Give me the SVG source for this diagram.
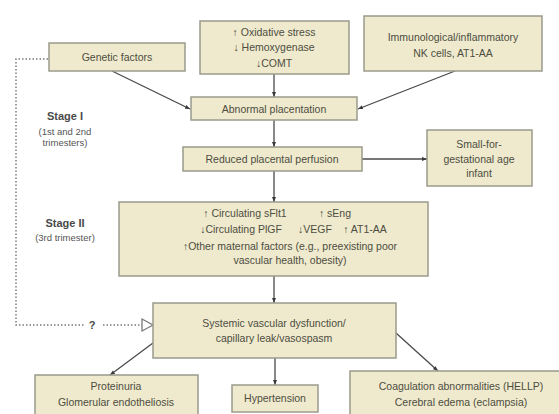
<svg xmlns="http://www.w3.org/2000/svg" width="559" height="414" viewBox="0 0 559 414">
<style>
.box{fill:#efeacd;stroke:#9b9b8c;stroke-width:1.5}
.t{font-family:"Liberation Sans",Arial,sans-serif;font-size:10.5px;fill:#4d4d42;text-anchor:middle}
.st{font-family:"Liberation Sans",Arial,sans-serif;font-size:11px;font-weight:bold;fill:#4a4a4a;text-anchor:middle}
.ss{font-family:"Liberation Sans",Arial,sans-serif;font-size:9.5px;fill:#555;text-anchor:middle}
.c{stroke:#4a4a4a;stroke-width:1.3;fill:none;marker-end:url(#ah)}
.d{stroke:#7a7a7a;stroke-width:1.5;fill:none;stroke-dasharray:1.5 2}
</style>
<defs>
<marker id="ah" viewBox="0 0 10 10" refX="10" refY="5" markerWidth="5" markerHeight="5" orient="auto" markerUnits="userSpaceOnUse">
<path d="M0,1 L10,5 L0,9 z" fill="#3a3a3a"/>
</marker>
</defs>
<rect width="559" height="414" fill="#fff"/>
<g id="stage1">
<text class="st" x="65" y="120">Stage I</text>
<text class="ss" x="65" y="135">(1st and 2nd</text>
<text class="ss" x="65" y="146">trimesters)</text>
</g>
<g id="stage2">
<text class="st" x="65" y="227">Stage II</text>
<text class="ss" x="65" y="241">(3rd trimester)</text>
</g>
<g id="connectors">
<line class="c" x1="112" y1="71" x2="190" y2="109"/>
<line class="c" x1="274" y1="74" x2="274" y2="97"/>
<line class="c" x1="455" y1="71" x2="358" y2="109"/>
<line class="c" x1="274" y1="120" x2="274" y2="147"/>
<line class="c" x1="362" y1="159" x2="427" y2="159"/>
<line class="c" x1="274" y1="171" x2="274" y2="202"/>
<line class="c" x1="274" y1="276" x2="274" y2="303"/>
<line class="c" x1="153" y1="343" x2="110" y2="375"/>
<line class="c" x1="275" y1="358" x2="275" y2="385"/>
<line class="c" x1="396" y1="333" x2="438" y2="371"/>
<polyline class="d" points="48,59 16,59 16,325 84,325"/>
<line class="d" x1="103" y1="325" x2="142" y2="325"/>
<path d="M142,319 L153,325 L142,331 z" fill="#fff" stroke="#7a7a7a" stroke-width="1.3"/>
<text x="92" y="329" style="font-family:'Liberation Sans',Arial,sans-serif;font-size:11px;font-weight:bold;fill:#4a4a4a" text-anchor="middle">?</text>
</g>
<g id="genetic">
<rect class="box" x="49" y="43" width="136" height="28"/>
<text class="t" x="117" y="61">Genetic factors</text>
</g>
<g id="oxidative">
<rect class="box" x="200" y="21" width="149" height="53"/>
<text class="t" x="274" y="36">↑ Oxidative stress</text>
<text class="t" x="274" y="51">↓ Hemoxygenase</text>
<text class="t" x="274" y="67">↓COMT</text>
</g>
<g id="immuno">
<rect class="box" x="364" y="16" width="178" height="55"/>
<text class="t" x="453" y="41">Immunological/inflammatory</text>
<text class="t" x="453" y="57">NK cells, AT1-AA</text>
</g>
<g id="abnormal">
<rect class="box" x="191" y="97" width="166" height="23"/>
<text class="t" x="274" y="112.5">Abnormal placentation</text>
</g>
<g id="reduced">
<rect class="box" x="183" y="147" width="179" height="24"/>
<text class="t" x="272" y="163">Reduced placental perfusion</text>
</g>
<g id="sga">
<rect class="box" x="427" y="130" width="105" height="56"/>
<text class="t" x="479" y="148">Small-for-</text>
<text class="t" x="479" y="163">gestational age</text>
<text class="t" x="479" y="177">infant</text>
</g>
<g id="stage2box">
<rect class="box" x="119" y="202" width="309" height="74"/>
<text class="t" x="245" y="217">↑ Circulating sFlt1</text>
<text class="t" x="335" y="217">↑ sEng</text>
<text class="t" x="241" y="233">↓Circulating PlGF</text>
<text class="t" x="315" y="233">↓VEGF</text>
<text class="t" x="365" y="233">↑ AT1-AA</text>
<text class="t" x="290" y="250">↑Other maternal factors (e.g., preexisting poor</text>
<text class="t" x="290" y="264">vascular health, obesity)</text>
</g>
<g id="systemic">
<rect class="box" x="153" y="303" width="243" height="55"/>
<text class="t" x="274" y="327">Systemic vascular dysfunction/</text>
<text class="t" x="274" y="342">capillary leak/vasospasm</text>
</g>
<g id="proteinuria">
<rect class="box" x="35" y="375" width="163" height="42"/>
<text class="t" x="116" y="390">Proteinuria</text>
<text class="t" x="116" y="406">Glomerular endotheliosis</text>
</g>
<g id="hypertension">
<rect class="box" x="232" y="385" width="86" height="27"/>
<text class="t" x="275" y="402">Hypertension</text>
</g>
<g id="coag">
<rect class="box" x="350" y="371" width="222" height="46"/>
<text class="t" x="461" y="390">Coagulation abnormalities (HELLP)</text>
<text class="t" x="461" y="406">Cerebral edema (eclampsia)</text>
</g>
</svg>
